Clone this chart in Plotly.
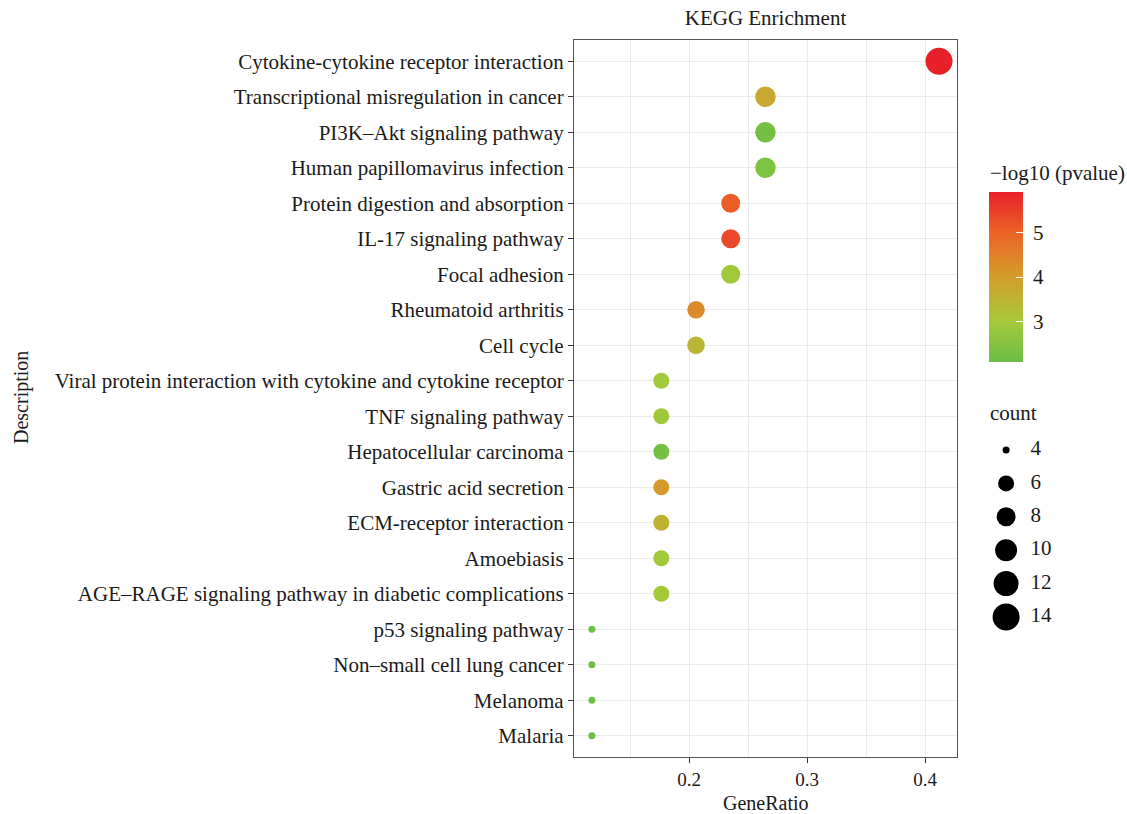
import numpy as np
import plotly.graph_objects as go

# ---------------- data ----------------
descriptions = [
    "Cytokine-cytokine receptor interaction",
    "Transcriptional misregulation in cancer",
    "PI3K\u2013Akt signaling pathway",
    "Human papillomavirus infection",
    "Protein digestion and absorption",
    "IL-17 signaling pathway",
    "Focal adhesion",
    "Rheumatoid arthritis",
    "Cell cycle",
    "Viral protein interaction with cytokine and cytokine receptor",
    "TNF signaling pathway",
    "Hepatocellular carcinoma",
    "Gastric acid secretion",
    "ECM-receptor interaction",
    "Amoebiasis",
    "AGE\u2013RAGE signaling pathway in diabetic complications",
    "p53 signaling pathway",
    "Non\u2013small cell lung cancer",
    "Melanoma",
    "Malaria",
]
counts = [14, 9, 9, 9, 8, 8, 8, 7, 7, 6, 6, 6, 6, 6, 6, 6, 4, 4, 4, 4]
gene_ratio = [c / 34 for c in counts]
neg_log10_p = [5.9, 3.75, 2.25, 2.4, 5.05, 5.35, 2.95, 4.3, 3.45, 2.95,
               2.9, 2.25, 4.05, 3.55, 2.95, 3.0, 2.2, 2.15, 2.15, 2.1]

x_ticks = [0.2, 0.3, 0.4]
x_tick_labels = ["0.2", "0.3", "0.4"]
cb_ticks = [3, 4, 5]
size_breaks = [4, 6, 8, 10, 12, 14]

# ---------------- styles ----------------
FONT = "Liberation Serif"
FS = 21
FS_X = 19
TXT = "#1a1a1a"
colorscale = [
    [0.00, "#6BBE45"],
    [0.24, "#A6C93A"],
    [0.50, "#D49D2C"],
    [0.76, "#EC6327"],
    [1.00, "#E8202A"],
]
# diameter (px) anchors for the size scale
_size_anchor_counts = [4, 6, 8, 10, 12, 14]
_size_anchor_px = [7, 16, 19, 22, 25, 27]


def diam(c):
    return np.interp(np.sqrt(np.asarray(c, float)), np.sqrt(_size_anchor_counts), _size_anchor_px)


W, H = 1127, 814
ML, MR, MT, MB = 574, 0, 40, 57
PW = W - ML - MR
PH = H - MT - MB
main_right_px = 957
main_dom = (main_right_px - ML) / PW


def px_x(p):
    return (p - ML) / PW


def px_y(p):
    return (H - MB - p) / PH


fig = go.Figure()

fig.add_trace(go.Scatter(
    x=gene_ratio, y=descriptions, mode="markers",
    marker=dict(
        size=diam(counts), sizemode="diameter",
        color=neg_log10_p, colorscale=colorscale,
        cmin=min(neg_log10_p), cmax=max(neg_log10_p),
        line=dict(width=0), opacity=1,
        colorbar=dict(
            xref="container", yref="container",
            x=989 / W, xanchor="left",
            y=1 - 411 / H, yanchor="bottom",
            lenmode="pixels", len=170,
            thicknessmode="pixels", thickness=34,
            outlinewidth=0, xpad=0, ypad=0,
            tickvals=cb_ticks, ticktext=[" " + str(t) for t in cb_ticks],
            ticks="inside", ticklen=7, tickcolor="white", tickwidth=1,
            tickfont=dict(family=FONT, size=FS, color=TXT),
        ),
    ),
    showlegend=False, hoverinfo="x+y",
    xaxis="x", yaxis="y",
))

# size legend (drawn on its own small axes)
fig.add_trace(go.Scatter(
    x=[0.23] * len(size_breaks), y=list(range(len(size_breaks))),
    mode="markers",
    marker=dict(size=diam(size_breaks), color="black", opacity=1, line=dict(width=0)),
    showlegend=False, hoverinfo="skip", xaxis="x2", yaxis="y2",
))
fig.add_trace(go.Scatter(
    x=[0.58] * len(size_breaks), y=list(range(len(size_breaks))),
    mode="text", text=[str(s) for s in size_breaks], textposition="middle right",
    textfont=dict(family=FONT, size=FS, color=TXT),
    showlegend=False, hoverinfo="skip", xaxis="x2", yaxis="y2",
))

axis_common = dict(showline=True, mirror=True, linecolor="#555555", linewidth=1.3,
                   gridcolor="#EBEBEB", gridwidth=1, zeroline=False,
                   ticks="outside", ticklen=5, tickcolor="#333333", tickwidth=1)

n = len(descriptions)
fig.update_layout(
    width=W, height=H,
    margin=dict(l=ML, r=MR, t=MT, b=MB, autoexpand=False),
    paper_bgcolor="white", plot_bgcolor="white",
    font=dict(family=FONT, color=TXT),
    title=dict(text="KEGG Enrichment", xref="paper", x=main_dom / 2, xanchor="center",
               yref="container", y=1 - 18 / H, yanchor="middle",
               font=dict(family=FONT, size=FS, color=TXT)),
    xaxis=dict(domain=[0, main_dom], range=[0.1025, 0.427],
               tickvals=x_ticks, ticktext=x_tick_labels,
               tickfont=dict(family=FONT, size=FS_X, color=TXT),
               minor=dict(showgrid=True, gridcolor="#EBEBEB", gridwidth=1,
                          tickvals=[0.15, 0.25, 0.35], ticks=""),
               **axis_common),
    yaxis=dict(domain=[0, 1], type="category", categoryorder="array",
               categoryarray=descriptions, range=[n - 0.4, -0.6],
               tickfont=dict(family=FONT, size=FS, color=TXT),
               **axis_common),
    xaxis2=dict(domain=[px_x(990), px_x(1060)], range=[0, 1], visible=False,
                anchor="y2"),
    yaxis2=dict(domain=[px_y(633.7), px_y(433.3)], range=[len(size_breaks) - 0.5, -0.5],
                visible=False, anchor="x2"),
    annotations=[
        dict(text="GeneRatio", xref="paper", yref="paper", x=main_dom / 2, y=px_y(803),
             xanchor="center", yanchor="middle", showarrow=False,
             font=dict(family=FONT, size=20, color=TXT)),
        dict(text="Description", xref="paper", yref="paper", x=px_x(21), y=px_y(398),
             xanchor="center", yanchor="middle", textangle=-90, showarrow=False,
             font=dict(family=FONT, size=20, color=TXT)),
        dict(text="\u2212log10 (pvalue)", xref="paper", yref="paper", x=px_x(988), y=px_y(173),
             xanchor="left", yanchor="middle", showarrow=False,
             font=dict(family=FONT, size=FS, color=TXT)),
        dict(text="count", xref="paper", yref="paper", x=px_x(988), y=px_y(413),
             xanchor="left", yanchor="middle", showarrow=False,
             font=dict(family=FONT, size=FS, color=TXT)),
    ],
)

fig.write_html("out.html")
